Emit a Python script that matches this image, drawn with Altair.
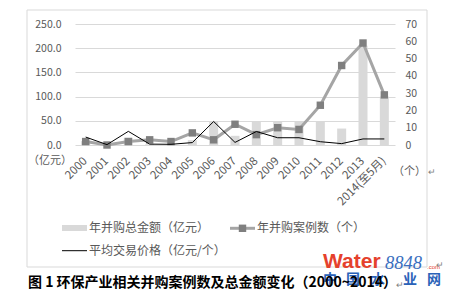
import altair as alt
import pandas as pd

years = ["2000", "2001", "2002", "2003", "2004", "2005", "2006", "2007",
         "2008", "2009", "2010", "2011", "2012", "2013", "2014(至5月)"]
amount = [8, 0, 15, 1.5, 1, 10, 48, 19, 48, 48, 48, 49, 34, 205, 100]
cases = [2, 0, 2, 3, 2, 7, 3, 12, 6, 10, 9, 23, 46, 59, 29]
avg_price = [4.6, 0.2, 7.9, 0.5, 0.4, 1.4, 13.6, 1.5, 7.8, 4.2, 4.2, 1.9, 0.8, 3.5, 3.5]

left_ticks = [0, 50, 100, 150, 200, 250]
right_ticks = [0, 10, 20, 30, 40, 50, 60, 70]

df = pd.DataFrame({"year": years, "amount": amount, "cases": cases, "price": avg_price})
one = pd.DataFrame({"k": [0]})

CJK = "Noto Sans CJK SC"
LBL = "#595959"

xenc = alt.X("year:N", sort=years,
             scale=alt.Scale(paddingInner=0, paddingOuter=0),
             axis=alt.Axis(title=None, labelAngle=-45, labelAlign="right",
                           labelBaseline="middle", labelPadding=14, ticks=False,
                           domain=False, labelColor=LBL, labelFontSize=11.5,
                           labelFont=CJK))

bars = alt.Chart(df).mark_bar(size=9, color="#d9d9d9").encode(
    x=xenc,
    y=alt.Y("amount:Q", scale=alt.Scale(domain=[0, 250], nice=False),
            axis=alt.Axis(orient="left", values=left_ticks, format=".1f", title=None,
                          grid=True, gridColor="#d9d9d9", domain=False, ticks=False,
                          labelPadding=14, labelColor=LBL, labelFontSize=10.5,
                          labelFont=CJK)))

cases_line = alt.Chart(df).mark_line(color="#a5a5a5", strokeWidth=3).encode(
    x=xenc,
    y=alt.Y("cases:Q", scale=alt.Scale(domain=[0, 70], nice=False),
            axis=alt.Axis(orient="right", values=right_ticks, title=None, grid=False,
                          domain=False, ticks=False, labelPadding=10, labelColor=LBL,
                          labelFontSize=10.5, labelFont=CJK)))

cases_pts = alt.Chart(df).mark_point(shape="square", filled=True, size=55,
                                     color="#7f7f7f", opacity=1).encode(
    x=xenc,
    y=alt.Y("cases:Q", scale=alt.Scale(domain=[0, 70], nice=False), axis=None))

price_line = alt.Chart(df).mark_line(color="black", strokeWidth=1).encode(
    x=xenc,
    y=alt.Y("price:Q", scale=alt.Scale(domain=[0, 70], nice=False), axis=None))


def txt(s, x, y, size, color, weight="normal", align="left", font=CJK, style="normal"):
    return alt.Chart(one).mark_text(text=s, align=align, baseline="middle", fontSize=size,
                                    color=color, fontWeight=weight, font=font,
                                    fontStyle=style).encode(x=alt.value(x), y=alt.value(y))


border = alt.Chart(one).mark_rect(fillOpacity=0, stroke="#d9d9d9", strokeWidth=1).encode(
    x=alt.value(-48), x2=alt.value(352), y=alt.value(-14), y2=alt.value(243))

leg_bar = alt.Chart(one).mark_rect(color="#d9d9d9").encode(
    x=alt.value(-13), x2=alt.value(12), y=alt.value(201), y2=alt.value(207))
leg_case_line = alt.Chart(one).mark_rule(color="#a5a5a5", strokeWidth=3).encode(
    x=alt.value(155), x2=alt.value(180), y=alt.value(204.3))
leg_case_pt = alt.Chart(one).mark_point(shape="square", filled=True, size=55,
                                        color="#7f7f7f", opacity=1).encode(
    x=alt.value(167.5), y=alt.value(204.3))
leg_price = alt.Chart(one).mark_rule(color="black", strokeWidth=1).encode(
    x=alt.value(-13), x2=alt.value(12), y=alt.value(226.7))

annots = [
    txt("（亿元）", -47, 136.7, 11, LBL),
    txt("（个）", 318, 147.7, 11, LBL),
    txt("↵", 353, 148, 9, "#7f7f7f"),
    txt("年并购总金额（亿元）", 14, 204.3, 12, LBL),
    txt("年并购案例数（个）", 182, 204.3, 12, LBL),
    txt("平均交易价格（亿元/个）", 14, 226.7, 12, LBL),
]
logo = [
    txt("Water", 248, 237.7, 21, "#e5412c", weight="bold", font="Liberation Sans"),
    txt("8848", 310, 238.5, 18.5, "#3a6fc0", font="Liberation Serif", style="italic"),
    txt(".com", 352, 243, 6, "#e5412c", font="Liberation Sans"),
    txt("↵", 361, 241, 9, "#7f7f7f"),
]
logo_chars = [("中", 255), ("国", 278), ("水", 303), ("业", 335), ("网", 359)]
for ch, cx in logo_chars:
    logo.append(txt(ch, cx, 256, 14, "#2a62b8", weight="bold", align="center"))
caption = [
    txt("图 1 环保产业相关并购案例数及总金额变化（2000~2014）", -47, 259.3, 14,
        "black", weight="bold"),
    txt("↵", 321, 261, 9, "#7f7f7f"),
]

chart = alt.layer(
    border, bars, cases_line, cases_pts, price_line,
    leg_bar, leg_case_line, leg_case_pt, leg_price, *annots, *logo, *caption
).resolve_scale(y="independent").properties(
    width=320, height=121, autosize="none",
    padding={"left": 75, "top": 24, "right": 57, "bottom": 152},
    background="white"
).configure_view(stroke=None)

chart.save("out.html", embed_options={"renderer": "svg", "actions": False})
